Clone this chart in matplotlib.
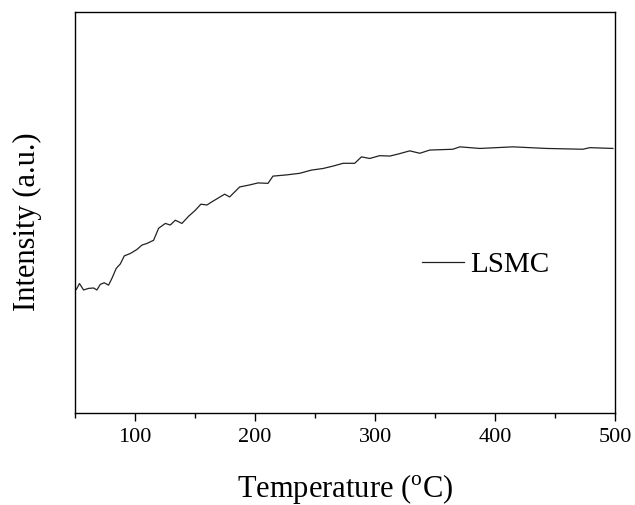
import matplotlib
matplotlib.use("Agg")
import matplotlib.pyplot as plt

# values (temperature in C, intensity in a.u.)
temperature = [50, 51.1, 53.8, 57.2, 61.3, 65.5, 68.3, 71.1, 74.4, 78.0,
               80.8, 84.4, 87.8, 91.1, 96.1, 101.6, 105.8, 109.9, 115.5, 119.7,
               125.3, 129.4, 133.6, 139.1, 144.7, 150.3, 154.9, 159.9, 164.1, 174.7,
               178.8, 187.2, 195.5, 202.4, 210.8, 214.9, 226.1, 237.2, 246.9, 256.6,
               264.9, 273.3, 283.0, 288.6, 295.5, 303.8, 312.2, 319.1, 328.8, 337.2,
               345.5, 364.7, 370.5, 387.2, 414.7, 442.8, 473.0, 478.8, 498.0]
intensity = [0.307, 0.308, 0.323, 0.307, 0.311, 0.312, 0.307, 0.321, 0.325, 0.319,
             0.336, 0.361, 0.372, 0.392, 0.398, 0.408, 0.419, 0.423, 0.431, 0.461,
             0.473, 0.469, 0.481, 0.473, 0.491, 0.506, 0.521, 0.519, 0.527, 0.546,
             0.539, 0.564, 0.569, 0.574, 0.573, 0.591, 0.594, 0.598, 0.606, 0.610,
             0.616, 0.623, 0.623, 0.639, 0.635, 0.642, 0.641, 0.646, 0.654, 0.648,
             0.656, 0.658, 0.664, 0.660, 0.664, 0.660, 0.658, 0.662, 0.660]

plt.rcParams["font.family"] = "Liberation Serif"
plt.rcParams["mathtext.fontset"] = "custom"
plt.rcParams["mathtext.rm"] = "Liberation Serif"

fig = plt.figure(figsize=(6.35, 5.05), dpi=100)
ax = fig.add_axes([0.118, 0.182, 0.851, 0.794])

ax.plot(temperature, intensity, color="#222222", linewidth=0.9, label="LSMC")

ax.set_xlim(50, 500)
ax.set_ylim(0, 1)
ax.set_xticks([100, 200, 300, 400, 500])
ax.set_xticks([50, 150, 250, 350, 450], minor=True)
ax.set_yticks([])
ax.tick_params(axis="x", which="major", direction="out", length=6, width=1,
               labelsize=16, pad=5)
ax.tick_params(axis="x", which="minor", direction="out", length=3.5, width=1)
for sp in ax.spines.values():
    sp.set_linewidth(1.0)

ax.set_xlabel(r"Temperature ($^\mathregular{o}$C)", fontsize=22, labelpad=18)
ax.set_ylabel("Intensity (a.u.)", fontsize=22)
ax.yaxis.set_label_coords(-0.061, 0.478)

ax.legend(loc="center left", bbox_to_anchor=(0.642, 0.369), frameon=False,
          fontsize=21, handlelength=1.45, handletextpad=0.2,
          borderpad=0, borderaxespad=0)

fig.savefig("out.png", dpi=100)
